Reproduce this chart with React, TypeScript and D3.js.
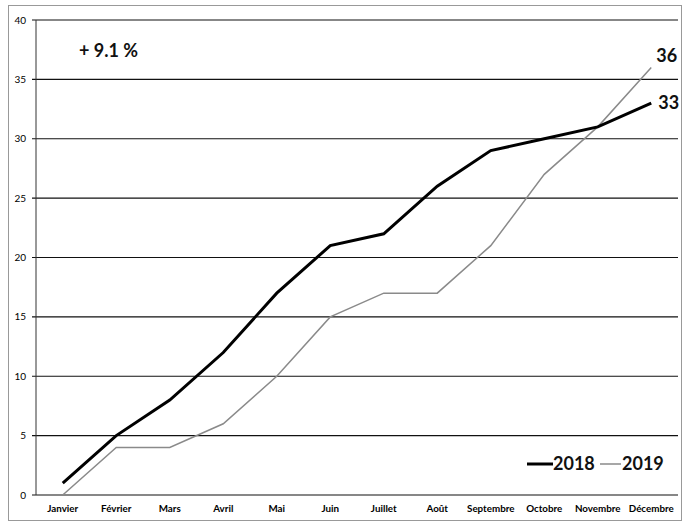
import React from "react";
import * as d3 from "d3";

const months = ["Janvier", "Février", "Mars", "Avril", "Mai", "Juin", "Juillet", "Août", "Septembre", "Octobre", "Novembre", "Décembre"];
const values2018 = [1, 5, 8, 12, 17, 21, 22, 26, 29, 30, 31, 33];
const values2019 = [0, 4, 4, 6, 10, 15, 17, 17, 21, 27, 31, 36];
const yTicks = [0, 5, 10, 15, 20, 25, 30, 35, 40];
const changeLabel = "+ 9.1 %";
const seriesNames = ["2018", "2019"];

const W = 683;
const H = 523;
const M = { left: 36, right: 678, top: 20, bottom: 495 };

export default function App() {
  const x = d3.scalePoint<string>().domain(months).range([M.left, M.right]).padding(0.5);
  const y = d3.scaleLinear().domain([0, 40]).range([M.bottom, M.top]);
  const line = d3
    .line<number>()
    .x((_, i) => x(months[i]) as number)
    .y((d) => y(d));
  const font = "Lato, 'Open Sans', sans-serif";
  const last = months.length - 1;
  return (
    <svg width={W} height={H} style={{ position: "absolute", left: 0, top: 0, background: "#fff" }}>
      <rect x={8.5} y={5.5} width={673} height={515} fill="#fff" stroke="#999" strokeWidth={1} />
      {yTicks.map((t) => (
        <g key={t}>
          <line x1={M.left - 4} x2={M.right} y1={y(t)} y2={y(t)} stroke="#111" strokeWidth={1.2} />
          <text x={26} y={y(t)} dy="0.35em" textAnchor="end" fontSize={10} fontFamily={font} fill="#000">
            {t}
          </text>
        </g>
      ))}
      <line x1={M.left} x2={M.left} y1={M.top} y2={M.bottom} stroke="#333" strokeWidth={1} />
      {months.map((m) => (
        <text key={m} x={x(m) as number} y={512} textAnchor="middle" fontSize={9.8} fontWeight="bold" fontFamily={font} fill="#000">
          {m}
        </text>
      ))}
      <path d={line(values2019) || ""} fill="none" stroke="#8a8a8a" strokeWidth={1.5} />
      <path d={line(values2018) || ""} fill="none" stroke="#000" strokeWidth={3} />
      <text x={79} y={57} fontSize={18} fontWeight="bold" fontFamily={font} fill="#111">
        {changeLabel}
      </text>
      <text x={(x(months[last]) as number) + 5} y={y(values2019[last]) - 6} fontSize={18} fontWeight="bold" fontFamily={font} fill="#111">
        {values2019[last]}
      </text>
      <text x={(x(months[last]) as number) + 7} y={y(values2018[last]) + 6} fontSize={18} fontWeight="bold" fontFamily={font} fill="#111">
        {values2018[last]}
      </text>
      <g fontFamily={font} fontWeight="bold" fontSize={18} fill="#111">
        <line x1={527} x2={553} y1={464} y2={464} stroke="#000" strokeWidth={3} />
        <text x={553} y={470}>{seriesNames[0]}</text>
        <line x1={600} x2={621} y1={464} y2={464} stroke="#8a8a8a" strokeWidth={1.5} />
        <text x={622} y={470}>{seriesNames[1]}</text>
      </g>
    </svg>
  );
}
